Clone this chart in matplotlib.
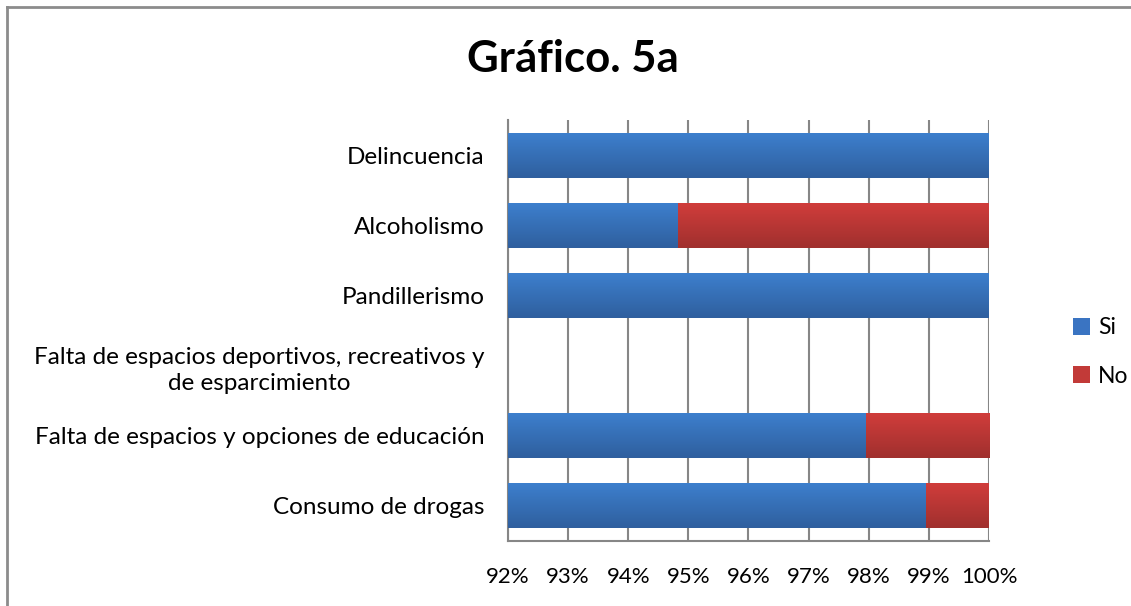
"""Gráfico 5a - barras apiladas al 100% (Si / No)"""
import numpy as np
import matplotlib
matplotlib.use("Agg")
import matplotlib.pyplot as plt
from matplotlib.ticker import FixedLocator
from matplotlib.colors import LinearSegmentedColormap

plt.rcParams["font.family"] = ["Lato", "DejaVu Sans"]

# datos (porcentaje), de arriba hacia abajo
categorias = [
    "Delincuencia",
    "Alcoholismo",
    "Pandillerismo",
    "Falta de espacios deportivos, recreativos y\nde esparcimiento",
    "Falta de espacios y opciones de educación",
    "Consumo de drogas",
]
si = [100.0, 94.83, 100.0, 0.0, 97.95, 98.96]
no = [0.0, 5.17, 0.0, 0.0, 2.05, 1.04]
xticks = [92, 93, 94, 95, 96, 97, 98, 99, 100]
titulo = "Gráfico. 5a"

W, H = 1131, 606
XMIN, XMAX = 92, 100
fig = plt.figure(figsize=(W / 100, H / 100), dpi=100)
ax = fig.add_axes([508 / W, 1 - 541 / H, (989 - 508) / W, (541 - 120) / H])

y = np.arange(len(categorias))
alto = 0.64
bars_si = ax.barh(y, si, height=alto, color="#3A74C2", label="Si", zorder=3)
bars_no = ax.barh(y, no, left=si, height=alto, color="#C23A38", label="No", zorder=3)

# degradado vertical tipo Excel
grad = np.linspace(0, 1, 64).reshape(-1, 1)
cmap_si = LinearSegmentedColormap.from_list("si", ["#3D7FCD", "#2F5F9E"])
cmap_no = LinearSegmentedColormap.from_list("no", ["#D03D3B", "#A0302E"])
for bars, cmap in [(bars_si, cmap_si), (bars_no, cmap_no)]:
    for b in bars:
        x0 = max(b.get_x(), XMIN)
        x1 = min(b.get_x() + b.get_width(), XMAX)
        if x1 <= x0:
            continue
        y0, y1 = b.get_y(), b.get_y() + b.get_height()
        ax.imshow(grad, cmap=cmap, aspect="auto", extent=(x0, x1, y1, y0),
                  zorder=4, interpolation="bilinear")

ax.set_xlim(XMIN, XMAX)
ax.set_ylim(len(categorias) - 0.5, -0.5)
ax.xaxis.set_major_locator(FixedLocator(xticks))
ax.set_xticklabels([f"{t}%" for t in xticks], fontsize=16)
ax.set_yticks(y)
ax.set_yticklabels(categorias, multialignment="center", linespacing=1.3, fontsize=17.5)
ax.tick_params(axis="both", length=0, colors="black")
ax.tick_params(axis="y", pad=17)
ax.tick_params(axis="x", pad=19)
ax.grid(axis="x", color="#868686", linewidth=1.5, zorder=0)
for s in ["top", "right"]:
    ax.spines[s].set_visible(False)
for s in ["left", "bottom"]:
    ax.spines[s].set_color("#868686")
    ax.spines[s].set_linewidth(1.5)

fig.text(573 / W, 1 - 59 / H, titulo, ha="center", va="center",
         fontsize=31.5, fontweight="bold")

handles, labels = ax.get_legend_handles_labels()
fig.legend(handles, labels, loc="center left", bbox_to_anchor=(1052 / W, 1 - 352 / H),
           frameon=False, fontsize=16.5, handlelength=0.75, handleheight=0.75,
           handletextpad=0.35, labelspacing=1.2)

# borde del área del gráfico
fig.add_artist(plt.Line2D([7 / W, 7 / W], [0, 1 - 7 / H], color="#8C8C8C", lw=2))
fig.add_artist(plt.Line2D([7 / W, 1], [1 - 7 / H, 1 - 7 / H], color="#8C8C8C", lw=2))

fig.savefig("out.png", dpi=100)
